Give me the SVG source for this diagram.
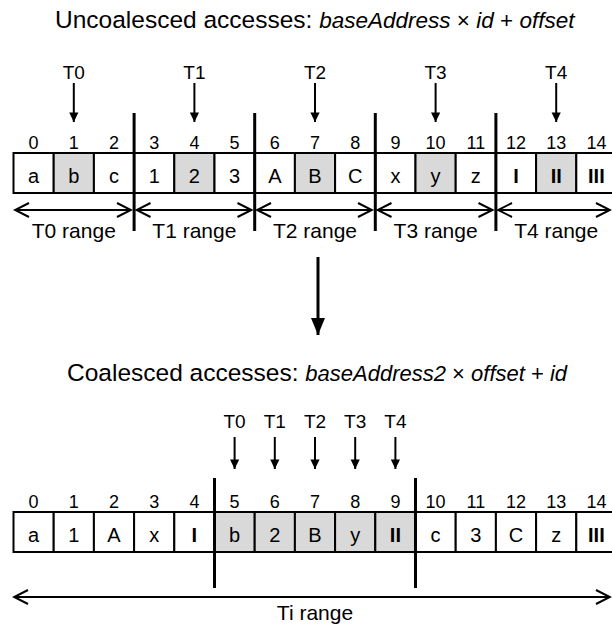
<svg xmlns="http://www.w3.org/2000/svg" width="612" height="630" viewBox="0 0 612 630">
<style>
text{font-family:"Liberation Sans",Arial,Helvetica,sans-serif;fill:#000}
.ttl{font-size:24.5px}
.it{font-style:italic;font-size:22px}
.op{font-style:normal;font-size:22px}
#title-uncoalesced .it,#title-uncoalesced .op{font-size:22.5px}
.tl{font-size:19px;text-anchor:middle}
.idx{font-size:18px;text-anchor:middle}
.val{font-size:20px;text-anchor:middle}
.rom{font-size:20px;text-anchor:middle;font-weight:bold}
.rng{font-size:21px;text-anchor:middle}
.c{fill:#fff;stroke:#000;stroke-width:2}
.g{fill:#d9d9d9;stroke:#000;stroke-width:2}
.div{stroke:#000;stroke-width:3}
.ta{stroke:#000;stroke-width:2;marker-end:url(#fh)}
.ra{stroke:#000;stroke-width:2;fill:none;marker-start:url(#ch);marker-end:url(#ch)}
</style>
<defs>
<marker id="fh" markerUnits="userSpaceOnUse" viewBox="-10 -6 11 12" refX="0" refY="0" markerWidth="11" markerHeight="12" orient="auto">
<path d="M-9.5,-4.6 L0,0 L-9.5,4.6 Z" fill="#000"/>
</marker>
<marker id="bh" markerUnits="userSpaceOnUse" viewBox="-18 -8 19 16" refX="0" refY="0" markerWidth="19" markerHeight="16" orient="auto">
<path d="M-17,-7 L0,0 L-17,7 Z" fill="#000"/>
</marker>
<marker id="ch" markerUnits="userSpaceOnUse" viewBox="-16 -9 18 18" refX="0" refY="0" markerWidth="18" markerHeight="18" orient="auto-start-reverse">
<path d="M-14,-7 L0,0 L-14,7" fill="none" stroke="#000" stroke-width="2"/>
</marker>
</defs>

<g id="title-uncoalesced"><text class="ttl" x="55" y="28">Uncoalesced accesses: <tspan class="it">baseAddress</tspan><tspan class="op"> × </tspan><tspan class="it">id</tspan><tspan class="op"> + </tspan><tspan class="it">offset</tspan></text></g>

<g id="top-threads">
<text class="tl" x="73.8" y="79">T0</text>
<text class="tl" x="194.4" y="79">T1</text>
<text class="tl" x="315" y="79">T2</text>
<text class="tl" x="435.6" y="79">T3</text>
<text class="tl" x="556.2" y="79">T4</text>
</g>

<g id="top-cells">
<g id="top-cell-0"><rect class="c" x="13.5" y="153" width="40.2" height="40"/><text class="idx" x="33.6" y="149">0</text><text class="val" x="33.6" y="183">a</text></g>
<g id="top-cell-1"><rect class="g" x="53.7" y="153" width="40.2" height="40"/><text class="idx" x="73.8" y="149">1</text><text class="val" x="73.8" y="183">b</text></g>
<g id="top-cell-2"><rect class="c" x="93.9" y="153" width="40.2" height="40"/><text class="idx" x="114" y="149">2</text><text class="val" x="114" y="183">c</text></g>
<g id="top-cell-3"><rect class="c" x="134.1" y="153" width="40.2" height="40"/><text class="idx" x="154.2" y="149">3</text><text class="val" x="154.2" y="183">1</text></g>
<g id="top-cell-4"><rect class="g" x="174.3" y="153" width="40.2" height="40"/><text class="idx" x="194.4" y="149">4</text><text class="val" x="194.4" y="183">2</text></g>
<g id="top-cell-5"><rect class="c" x="214.5" y="153" width="40.2" height="40"/><text class="idx" x="234.6" y="149">5</text><text class="val" x="234.6" y="183">3</text></g>
<g id="top-cell-6"><rect class="c" x="254.7" y="153" width="40.2" height="40"/><text class="idx" x="274.8" y="149">6</text><text class="val" x="274.8" y="183">A</text></g>
<g id="top-cell-7"><rect class="g" x="294.9" y="153" width="40.2" height="40"/><text class="idx" x="315" y="149">7</text><text class="val" x="315" y="183">B</text></g>
<g id="top-cell-8"><rect class="c" x="335.1" y="153" width="40.2" height="40"/><text class="idx" x="355.2" y="149">8</text><text class="val" x="355.2" y="183">C</text></g>
<g id="top-cell-9"><rect class="c" x="375.3" y="153" width="40.2" height="40"/><text class="idx" x="395.4" y="149">9</text><text class="val" x="395.4" y="183">x</text></g>
<g id="top-cell-10"><rect class="g" x="415.5" y="153" width="40.2" height="40"/><text class="idx" x="435.6" y="149">10</text><text class="val" x="435.6" y="183">y</text></g>
<g id="top-cell-11"><rect class="c" x="455.7" y="153" width="40.2" height="40"/><text class="idx" x="475.8" y="149">11</text><text class="val" x="475.8" y="183">z</text></g>
<g id="top-cell-12"><rect class="c" x="495.9" y="153" width="40.2" height="40"/><text class="idx" x="516" y="149">12</text><text class="rom" x="516" y="183">I</text></g>
<g id="top-cell-13"><rect class="g" x="536.1" y="153" width="40.2" height="40"/><text class="idx" x="556.2" y="149">13</text><text class="rom" x="556.2" y="183">II</text></g>
<g id="top-cell-14"><rect class="c" x="576.3" y="153" width="40.2" height="40"/><text class="idx" x="596.4" y="149">14</text><text class="rom" x="596.4" y="183">III</text></g>
</g>

<g id="top-dividers">
<line class="div" x1="134.1" y1="113" x2="134.1" y2="231"/>
<line class="div" x1="254.7" y1="113" x2="254.7" y2="231"/>
<line class="div" x1="375.3" y1="113" x2="375.3" y2="231"/>
<line class="div" x1="495.9" y1="113" x2="495.9" y2="231"/>
</g>

<g id="top-range-labels">
<text class="rng" x="73.8" y="238">T0 range</text>
<text class="rng" x="194.4" y="238">T1 range</text>
<text class="rng" x="315" y="238">T2 range</text>
<text class="rng" x="435.6" y="238">T3 range</text>
<text class="rng" x="556.2" y="238">T4 range</text>
</g>

<g id="title-coalesced"><text class="ttl" x="67" y="381">Coalesced accesses: <tspan class="it">baseAddress2</tspan><tspan class="op"> × </tspan><tspan class="it">offset</tspan><tspan class="op"> + </tspan><tspan class="it">id</tspan></text></g>

<g id="bottom-threads">
<text class="tl" x="234.6" y="428">T0</text>
<text class="tl" x="274.8" y="428">T1</text>
<text class="tl" x="315" y="428">T2</text>
<text class="tl" x="355.2" y="428">T3</text>
<text class="tl" x="395.4" y="428">T4</text>
</g>

<g id="bottom-cells">
<g id="bot-cell-0"><rect class="c" x="13.5" y="512" width="40.2" height="40"/><text class="idx" x="33.6" y="508">0</text><text class="val" x="33.6" y="542">a</text></g>
<g id="bot-cell-1"><rect class="c" x="53.7" y="512" width="40.2" height="40"/><text class="idx" x="73.8" y="508">1</text><text class="val" x="73.8" y="542">1</text></g>
<g id="bot-cell-2"><rect class="c" x="93.9" y="512" width="40.2" height="40"/><text class="idx" x="114" y="508">2</text><text class="val" x="114" y="542">A</text></g>
<g id="bot-cell-3"><rect class="c" x="134.1" y="512" width="40.2" height="40"/><text class="idx" x="154.2" y="508">3</text><text class="val" x="154.2" y="542">x</text></g>
<g id="bot-cell-4"><rect class="c" x="174.3" y="512" width="40.2" height="40"/><text class="idx" x="194.4" y="508">4</text><text class="rom" x="194.4" y="542">I</text></g>
<g id="bot-cell-5"><rect class="g" x="214.5" y="512" width="40.2" height="40"/><text class="idx" x="234.6" y="508">5</text><text class="val" x="234.6" y="542">b</text></g>
<g id="bot-cell-6"><rect class="g" x="254.7" y="512" width="40.2" height="40"/><text class="idx" x="274.8" y="508">6</text><text class="val" x="274.8" y="542">2</text></g>
<g id="bot-cell-7"><rect class="g" x="294.9" y="512" width="40.2" height="40"/><text class="idx" x="315" y="508">7</text><text class="val" x="315" y="542">B</text></g>
<g id="bot-cell-8"><rect class="g" x="335.1" y="512" width="40.2" height="40"/><text class="idx" x="355.2" y="508">8</text><text class="val" x="355.2" y="542">y</text></g>
<g id="bot-cell-9"><rect class="g" x="375.3" y="512" width="40.2" height="40"/><text class="idx" x="395.4" y="508">9</text><text class="rom" x="395.4" y="542">II</text></g>
<g id="bot-cell-10"><rect class="c" x="415.5" y="512" width="40.2" height="40"/><text class="idx" x="435.6" y="508">10</text><text class="val" x="435.6" y="542">c</text></g>
<g id="bot-cell-11"><rect class="c" x="455.7" y="512" width="40.2" height="40"/><text class="idx" x="475.8" y="508">11</text><text class="val" x="475.8" y="542">3</text></g>
<g id="bot-cell-12"><rect class="c" x="495.9" y="512" width="40.2" height="40"/><text class="idx" x="516" y="508">12</text><text class="val" x="516" y="542">C</text></g>
<g id="bot-cell-13"><rect class="c" x="536.1" y="512" width="40.2" height="40"/><text class="idx" x="556.2" y="508">13</text><text class="val" x="556.2" y="542">z</text></g>
<g id="bot-cell-14"><rect class="c" x="576.3" y="512" width="40.2" height="40"/><text class="idx" x="596.4" y="508">14</text><text class="rom" x="596.4" y="542">III</text></g>
</g>

<g id="bottom-dividers">
<line class="div" x1="214.5" y1="478" x2="214.5" y2="588"/>
<line class="div" x1="415.5" y1="478" x2="415.5" y2="588"/>
</g>

<g id="ti-range-label"><text class="rng" x="315" y="620">Ti range</text></g>

<g id="connectors">
<line class="ta" x1="73.8" y1="83" x2="73.8" y2="122"/>
<line class="ta" x1="194.4" y1="83" x2="194.4" y2="122"/>
<line class="ta" x1="315" y1="83" x2="315" y2="122"/>
<line class="ta" x1="435.6" y1="83" x2="435.6" y2="122"/>
<line class="ta" x1="556.2" y1="83" x2="556.2" y2="122"/>
<line class="ra" x1="15" y1="210" x2="131" y2="210"/>
<line class="ra" x1="136.5" y1="210" x2="251.5" y2="210"/>
<line class="ra" x1="257" y1="210" x2="372" y2="210"/>
<line class="ra" x1="377.5" y1="210" x2="492.5" y2="210"/>
<line class="ra" x1="498" y1="210" x2="610" y2="210"/>
<line x1="318" y1="257" x2="318" y2="335" stroke="#000" stroke-width="3" marker-end="url(#bh)"/>
<line class="ta" x1="234.6" y1="437" x2="234.6" y2="469"/>
<line class="ta" x1="274.8" y1="437" x2="274.8" y2="469"/>
<line class="ta" x1="315" y1="437" x2="315" y2="469"/>
<line class="ta" x1="355.2" y1="437" x2="355.2" y2="469"/>
<line class="ta" x1="395.4" y1="437" x2="395.4" y2="469"/>
<line class="ra" x1="14" y1="597" x2="610" y2="597"/>
</g>
</svg>
